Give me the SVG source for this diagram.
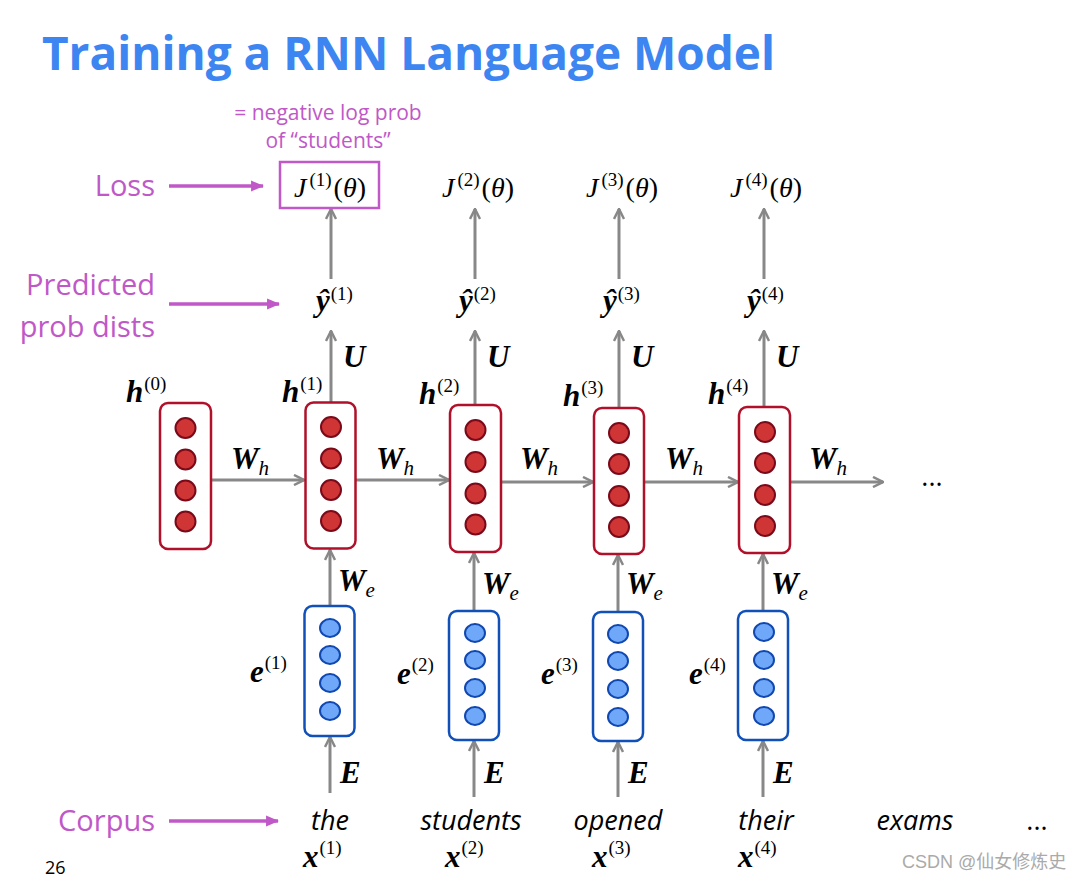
<svg xmlns="http://www.w3.org/2000/svg" width="1089" height="880" viewBox="0 0 1089 880">
<defs>
<style>
.title{font-family:"Open Sans","Liberation Sans",sans-serif;font-weight:bold;font-size:46px;fill:#3d85f0}
.side{font-family:"Open Sans","Liberation Sans",sans-serif;font-size:29px;fill:#c058c8}
.note{font-family:"Open Sans","Liberation Sans",sans-serif;font-size:21px;fill:#c058c8}
.word{font-family:"Open Sans","Liberation Sans",sans-serif;font-style:italic;font-size:27px;fill:#000}
.mv{font-family:"Liberation Serif","DejaVu Serif",serif;font-style:italic;font-weight:bold;font-size:31px;fill:#000}
.mj{font-family:"Liberation Serif","DejaVu Serif",serif;font-style:italic;font-size:28px;fill:#000}
.sup{font-style:normal;font-weight:normal;font-size:19px}
.sub{font-style:italic;font-weight:normal;font-size:21px}
.hbox{fill:#fff;stroke:#b0102a;stroke-width:2.5}
.hc{fill:#d03535;stroke:#7a0a1a;stroke-width:2}
.ebox{fill:#fff;stroke:#1050b8;stroke-width:2.5}
.ec{fill:#6fa8f8;stroke:#1048b0;stroke-width:2}
.g{stroke:#888;stroke-width:3;fill:none;marker-end:url(#ga)}
.p{stroke:#c058c8;stroke-width:3.5;fill:none;marker-end:url(#pa)}
</style>
<marker id="ga" viewBox="0 0 12 12" refX="11" refY="6" markerWidth="12" markerHeight="12" markerUnits="userSpaceOnUse" orient="auto">
<path d="M1,1 L11,6 L1,11" fill="none" stroke="#888" stroke-width="2.5"/>
</marker>
<marker id="pa" viewBox="0 0 12 12" refX="11" refY="6" markerWidth="13" markerHeight="13" markerUnits="userSpaceOnUse" orient="auto">
<path d="M0,1 L12,6 L0,11 Z" fill="#c058c8"/>
</marker>
</defs>
<rect width="1089" height="880" fill="#fff"/>
<text class="title" x="42" y="70" textLength="733" lengthAdjust="spacingAndGlyphs">Training a RNN Language Model</text>

<g id="side-labels">
<text class="side" x="155" y="196" text-anchor="end">Loss</text>
<text class="side" x="155" y="295" text-anchor="end">Predicted</text>
<text class="side" x="155" y="337" text-anchor="end">prob dists</text>
<text class="side" x="155" y="831" text-anchor="end">Corpus</text>
<text class="note" x="328" y="120" text-anchor="middle">= negative log prob</text>
<text class="note" x="328" y="148" text-anchor="middle">of “students”</text>
</g>

<g id="connectors">
<path class="p" d="M169,186 H263"/>
<path class="p" d="M169,304 H279"/>
<path class="p" d="M169,821 H278"/>
<path class="g" d="M211,480 H304"/>
<path class="g" d="M356,480 H449"/>
<path class="g" d="M501,482 H593"/>
<path class="g" d="M644,482 H738"/>
<path class="g" d="M790,482 H883"/>
<path class="g" d="M331,402 V331"/>
<path class="g" d="M475,405 V331"/>
<path class="g" d="M619,408 V331"/>
<path class="g" d="M764,406 V331"/>
<path class="g" d="M331,279 V209"/>
<path class="g" d="M475,279 V209"/>
<path class="g" d="M619,279 V209"/>
<path class="g" d="M764,279 V209"/>
<path class="g" d="M330,606 V550"/>
<path class="g" d="M474,611 V553"/>
<path class="g" d="M618,612 V555"/>
<path class="g" d="M763,611 V554"/>
<path class="g" d="M330,793 V737"/>
<path class="g" d="M474,797 V741"/>
<path class="g" d="M618,797 V742"/>
<path class="g" d="M763,797 V741"/>
</g>

<g id="h0">
<rect class="hbox" x="160" y="403" width="51" height="146" rx="8"/>
<circle class="hc" cx="185.5" cy="428" r="10"/><circle class="hc" cx="185.5" cy="459.5" r="10"/><circle class="hc" cx="185.5" cy="490.5" r="10"/><circle class="hc" cx="185.5" cy="521.5" r="10"/>
<text class="mv" x="126" y="402">h<tspan class="sup" dx="1" dy="-12">(0)</tspan></text>
</g>

<g id="h1">
<rect class="hbox" x="305.5" y="402.5" width="50" height="146" rx="8"/>
<circle class="hc" cx="331" cy="427" r="10"/><circle class="hc" cx="331" cy="458.5" r="10"/><circle class="hc" cx="331" cy="490" r="10"/><circle class="hc" cx="331" cy="521" r="10"/>
<text class="mv" x="282" y="402">h<tspan class="sup" dx="1" dy="-12">(1)</tspan></text>
</g>
<g id="h2">
<rect class="hbox" x="450" y="405" width="51" height="147" rx="8"/>
<circle class="hc" cx="475.5" cy="430" r="10"/><circle class="hc" cx="475.5" cy="462" r="10"/><circle class="hc" cx="475.5" cy="493.5" r="10"/><circle class="hc" cx="475.5" cy="524.5" r="10"/>
<text class="mv" x="419" y="404">h<tspan class="sup" dx="1" dy="-12">(2)</tspan></text>
</g>
<g id="h3">
<rect class="hbox" x="594" y="408" width="50" height="146" rx="8"/>
<circle class="hc" cx="619" cy="433" r="10"/><circle class="hc" cx="619" cy="464" r="10"/><circle class="hc" cx="619" cy="496" r="10"/><circle class="hc" cx="619" cy="527" r="10"/>
<text class="mv" x="563" y="406">h<tspan class="sup" dx="1" dy="-12">(3)</tspan></text>
</g>
<g id="h4">
<rect class="hbox" x="739" y="407" width="51" height="146" rx="8"/>
<circle class="hc" cx="765" cy="432" r="10"/><circle class="hc" cx="765" cy="463" r="10"/><circle class="hc" cx="765" cy="495" r="10"/><circle class="hc" cx="765" cy="526" r="10"/>
<text class="mv" x="708" y="404">h<tspan class="sup" dx="1" dy="-12">(4)</tspan></text>
</g>

<g id="e1">
<rect class="ebox" x="304.5" y="606" width="50" height="130" rx="8"/>
<ellipse class="ec" cx="330" cy="628" rx="10" ry="9"/><ellipse class="ec" cx="330" cy="655" rx="10" ry="9"/><ellipse class="ec" cx="330" cy="683" rx="10" ry="9"/><ellipse class="ec" cx="330" cy="711" rx="10" ry="9"/>
<text class="mv" x="250" y="682">e<tspan class="sup" dx="1" dy="-13">(1)</tspan></text>
</g>
<g id="e2">
<rect class="ebox" x="449" y="611" width="50" height="129" rx="8"/>
<ellipse class="ec" cx="475" cy="633" rx="10" ry="9"/><ellipse class="ec" cx="475" cy="660" rx="10" ry="9"/><ellipse class="ec" cx="475" cy="688" rx="10" ry="9"/><ellipse class="ec" cx="475" cy="716" rx="10" ry="9"/>
<text class="mv" x="397" y="684">e<tspan class="sup" dx="1" dy="-13">(2)</tspan></text>
</g>
<g id="e3">
<rect class="ebox" x="593" y="612" width="50" height="129" rx="8"/>
<ellipse class="ec" cx="618" cy="634" rx="10" ry="9"/><ellipse class="ec" cx="618" cy="661" rx="10" ry="9"/><ellipse class="ec" cx="618" cy="689" rx="10" ry="9"/><ellipse class="ec" cx="618" cy="717" rx="10" ry="9"/>
<text class="mv" x="541" y="684">e<tspan class="sup" dx="1" dy="-13">(3)</tspan></text>
</g>
<g id="e4">
<rect class="ebox" x="738" y="611" width="50" height="129" rx="8"/>
<ellipse class="ec" cx="764" cy="632" rx="10" ry="9"/><ellipse class="ec" cx="764" cy="660" rx="10" ry="9"/><ellipse class="ec" cx="764" cy="688" rx="10" ry="9"/><ellipse class="ec" cx="764" cy="716" rx="10" ry="9"/>
<text class="mv" x="689" y="684">e<tspan class="sup" dx="1" dy="-13">(4)</tspan></text>
</g>

<g id="weights">
<text class="mv" x="231" y="469">W<tspan class="sub" dy="6">h</tspan></text>
<text class="mv" x="376" y="469">W<tspan class="sub" dy="6">h</tspan></text>
<text class="mv" x="520" y="469">W<tspan class="sub" dy="6">h</tspan></text>
<text class="mv" x="665" y="469">W<tspan class="sub" dy="6">h</tspan></text>
<text class="mv" x="809" y="469">W<tspan class="sub" dy="6">h</tspan></text>
<text class="mv" x="338" y="591">W<tspan class="sub" dy="6">e</tspan></text>
<text class="mv" x="482" y="594">W<tspan class="sub" dy="6">e</tspan></text>
<text class="mv" x="626" y="594">W<tspan class="sub" dy="6">e</tspan></text>
<text class="mv" x="771" y="594">W<tspan class="sub" dy="6">e</tspan></text>
<text class="mv" x="343" y="367">U</text>
<text class="mv" x="487" y="367">U</text>
<text class="mv" x="631" y="367">U</text>
<text class="mv" x="776" y="367">U</text>
<text class="mv" x="340" y="783">E</text>
<text class="mv" x="484" y="783">E</text>
<text class="mv" x="628" y="783">E</text>
<text class="mv" x="773" y="783">E</text>
</g>

<g id="yhat">
<text class="mv" x="316" y="311">ŷ<tspan class="sup" dx="1" dy="-11">(1)</tspan></text>
<text class="mv" x="459" y="311">ŷ<tspan class="sup" dx="1" dy="-11">(2)</tspan></text>
<text class="mv" x="603" y="311">ŷ<tspan class="sup" dx="1" dy="-11">(3)</tspan></text>
<text class="mv" x="747" y="311">ŷ<tspan class="sup" dx="1" dy="-11">(4)</tspan></text>
</g>

<g id="loss">
<rect x="280" y="162" width="99" height="46" fill="none" stroke="#c058c8" stroke-width="2.5"/>
<text class="mj" x="330" y="197" text-anchor="middle">J<tspan class="sup" dx="3" dy="-11">(1)</tspan><tspan style="font-style:normal" dx="2" dy="11">(</tspan>θ<tspan style="font-style:normal">)</tspan></text>
<text class="mj" x="478" y="197" text-anchor="middle">J<tspan class="sup" dx="3" dy="-11">(2)</tspan><tspan style="font-style:normal" dx="2" dy="11">(</tspan>θ<tspan style="font-style:normal">)</tspan></text>
<text class="mj" x="622" y="197" text-anchor="middle">J<tspan class="sup" dx="3" dy="-11">(3)</tspan><tspan style="font-style:normal" dx="2" dy="11">(</tspan>θ<tspan style="font-style:normal">)</tspan></text>
<text class="mj" x="766" y="197" text-anchor="middle">J<tspan class="sup" dx="3" dy="-11">(4)</tspan><tspan style="font-style:normal" dx="2" dy="11">(</tspan>θ<tspan style="font-style:normal">)</tspan></text>
</g>

<g id="corpus">
<text class="word" x="330" y="830" text-anchor="middle">the</text>
<text class="word" x="471" y="830" text-anchor="middle">students</text>
<text class="word" x="618" y="830" text-anchor="middle">opened</text>
<text class="word" x="766" y="830" text-anchor="middle">their</text>
<text class="word" x="915" y="830" text-anchor="middle">exams</text>
<text class="word" x="1037" y="830" text-anchor="middle" style="font-style:normal">...</text>
<text class="word" x="932" y="486" text-anchor="middle" style="font-style:normal">...</text>
<text class="mv" x="303" y="867">x<tspan class="sup" dx="1" dy="-13">(1)</tspan></text>
<text class="mv" x="445" y="867">x<tspan class="sup" dx="1" dy="-13">(2)</tspan></text>
<text class="mv" x="592" y="867">x<tspan class="sup" dx="1" dy="-13">(3)</tspan></text>
<text class="mv" x="738" y="867">x<tspan class="sup" dx="1" dy="-13">(4)</tspan></text>
</g>

<text x="45" y="874" font-family="Open Sans, Liberation Sans, sans-serif" font-size="18" fill="#000">26</text>
<text x="902" y="868" font-family="'Liberation Sans','Noto Sans CJK SC',sans-serif" font-size="18" fill="#aaa">CSDN @仙女修炼史</text>
</svg>
